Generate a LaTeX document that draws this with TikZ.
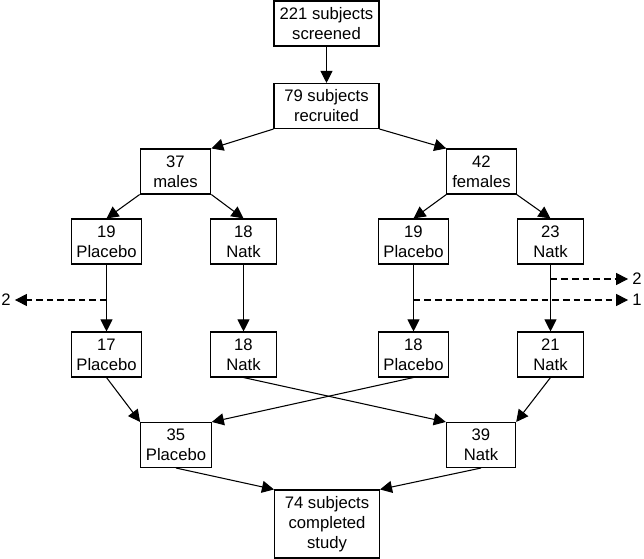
\documentclass[tikz,border=0pt]{standalone}
\usepackage{fontspec}
\setmainfont{Liberation Sans}
\usetikzlibrary{arrows.meta}
\begin{document}
\begin{tikzpicture}[x=0.75pt,y=-0.75pt,
	box/.style={draw, line width=0.8pt, align=center, inner sep=0pt, minimum height=33.75pt, font=\fontsize{12.5}{15}\selectfont},
	wide/.style={box, minimum width=78.75pt},
	plac/.style={box, minimum width=53pt},
	natk/.style={box, minimum width=49pt},
	lbl/.style={font=\fontsize{12.5}{15}\selectfont, inner sep=0pt},
	link/.style={line width=0.8pt, -{Triangle[length=9pt,width=9pt]}},
	drop/.style={link, dash pattern=on 5pt off 3pt, shorten >=3pt}]
	\useasboundingbox (0,0) rectangle (644,559);
	% top of the flow
	\node[wide] (screen) at (326.5,23.5) {221 subjects\\screened};
	\node[wide] (recruit) at (326.5,106) {79 subjects\\recruited};
	\node[box, minimum width=53pt] (males) at (175.5,171.5) {37\\males};
	\node[box, minimum width=52pt] (females) at (481.5,171.5) {42\\females};
	% allocation
	\node[plac] (mplac) at (106.5,241.5) {19\\Placebo};
	\node[natk] (mnatk) at (243.5,241.5) {18\\Natk};
	\node[plac] (fplac) at (413.5,241.5) {19\\Placebo};
	\node[natk] (fnatk) at (550.5,241.5) {23\\Natk};
	% after dropouts
	\node[plac] (mplacend) at (106.5,354.5) {17\\Placebo};
	\node[natk] (mnatkend) at (243.5,354.5) {18\\Natk};
	\node[plac] (fplacend) at (413.5,354.5) {18\\Placebo};
	\node[natk] (fnatkend) at (550.5,354.5) {21\\Natk};
	% pooled groups
	\node[plac] (placall) at (176,445) {35\\Placebo};
	\node[box, minimum width=52pt] (natkall) at (481,445) {39\\Natk};
	\node[wide, minimum height=51pt] (done) at (327,524) {74 subjects\\completed\\study};
	% dropout labels
	\node[lbl] (lout) at (6,300) {2};
	\node[lbl] (rout2) at (637,279) {2};
	\node[lbl] (rout1) at (637,300) {1};
	\coordinate (lstart) at (106.5,300);
	\coordinate (rstart2) at (550.5,279);
	\coordinate (rstart1) at (413.5,300);
	% connectors
	\draw[link] (screen) -- (recruit);
	\draw[link] (recruit.south west) -- (males.north east);
	\draw[link] (recruit.south east) -- (females.north west);
	\draw[link] (males.south west) -- (mplac.north);
	\draw[link] (males.south east) -- (mnatk.north);
	\draw[link] (females.south west) -- (fplac.north);
	\draw[link] (females.south east) -- (fnatk.north);
	\draw[link] (mplac) -- (mplacend);
	\draw[link] (mnatk) -- (mnatkend);
	\draw[link] (fplac) -- (fplacend);
	\draw[link] (fnatk) -- (fnatkend);
	\draw[link] (mplacend.south) -- (placall.north west);
	\draw[link] (fplacend.south) -- (placall.north east);
	\draw[link] (mnatkend.south) -- (natkall.north west);
	\draw[link] (fnatkend.south) -- (natkall.north east);
	\draw[link] (placall.south) -- (done.north west);
	\draw[link] (natkall.south) -- (done.north east);
	\draw[drop] (lstart) -- (lout);
	\draw[drop] (rstart2) -- (rout2);
	\draw[drop] (rstart1) -- (rout1);
\end{tikzpicture}
\end{document}
